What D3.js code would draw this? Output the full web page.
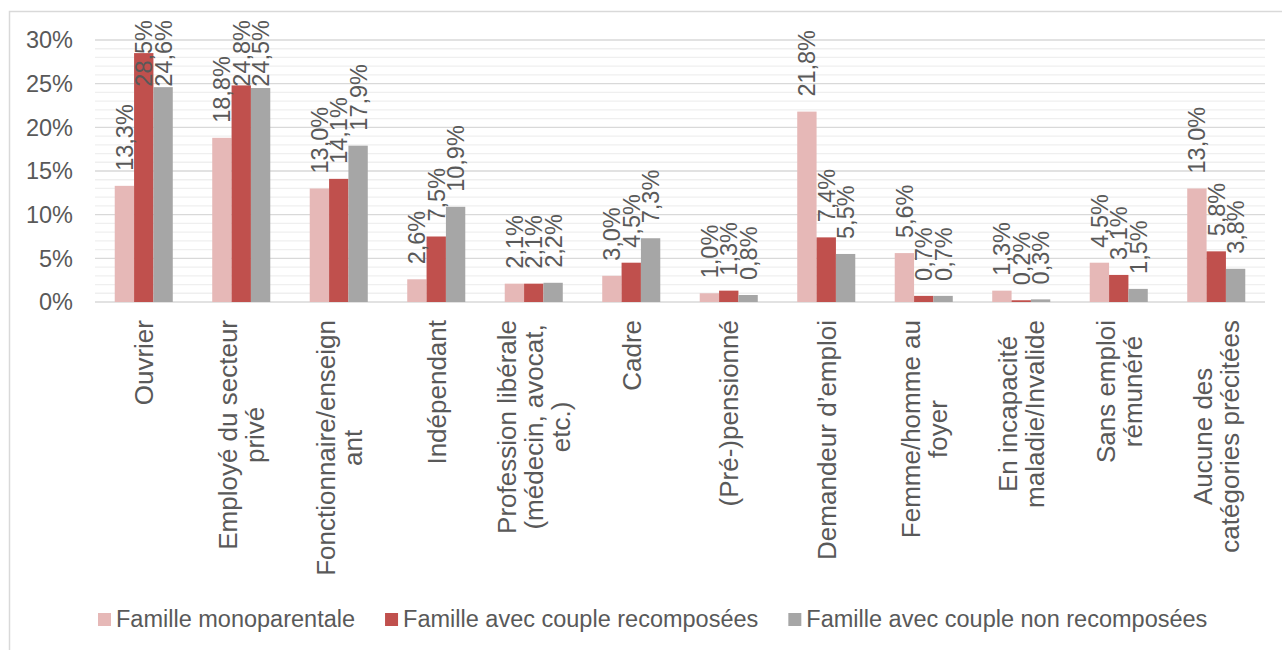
<!DOCTYPE html>
<html>
<head>
<meta charset="utf-8">
<script src="https://cdn.jsdelivr.net/npm/d3@7"></script>
<style>
  body { margin: 0; background: #fff; }
  text { font-family: "Liberation Sans", Arial, sans-serif; fill: #595959; }
</style>
</head>
<body>
<script>
// data
var categories = [
  ["Ouvrier"],
  ["Employé du secteur", "privé"],
  ["Fonctionnaire/enseign", "ant"],
  ["Indépendant"],
  ["Profession libérale", "(médecin, avocat,", "etc.)"],
  ["Cadre"],
  ["(Pré-)pensionné"],
  ["Demandeur d’emploi"],
  ["Femme/homme au", "foyer"],
  ["En incapacité", "maladie/Invalide"],
  ["Sans emploi", "rémunéré"],
  ["Aucune des", "catégories précitées"]
]
var seriesNames = ["Famille monoparentale", "Famille avec couple recomposées", "Famille avec couple non recomposées"]
var monoparentale = [13.3, 18.8, 13.0, 2.6, 2.1, 3.0, 1.0, 21.8, 5.6, 1.3, 4.5, 13.0]
var recomposees = [28.5, 24.8, 14.1, 7.5, 2.1, 4.5, 1.3, 7.4, 0.7, 0.2, 3.1, 5.8]
var nonRecomposees = [24.6, 24.5, 17.9, 10.9, 2.2, 7.3, 0.8, 5.5, 0.7, 0.3, 1.5, 3.8]
var yTicks = [0, 5, 10, 15, 20, 25, 30]

var colors = ["#e6b8b7", "#c0504d", "#a6a6a6"]
var allSeries = [monoparentale, recomposees, nonRecomposees]

var svg = d3.select("body").append("svg").attr("width", 1282).attr("height", 650)

// chart frame (cut by the picture at right and bottom)
svg.append("rect")
  .attr("x", 9.5).attr("y", 11.5)
  .attr("width", 1400).attr("height", 800)
  .attr("fill", "none").attr("stroke", "#d9d9d9").attr("stroke-width", 1.5)

var plotLeft = 95, plotRight = 1265, plotTop = 40, plotBottom = 302

var x = d3.scaleBand()
  .domain(d3.range(categories.length))
  .range([plotLeft, plotRight])
  .padding(0)

var step = x.bandwidth()
var groupW = step / 1.68
var xs = d3.scaleBand()
  .domain(d3.range(3))
  .range([(step - groupW) / 2, (step + groupW) / 2])

var y = d3.scaleLinear().domain([0, 30]).range([plotBottom, plotTop])

// minor gridlines
svg.append("g").selectAll("line")
  .data(d3.range(0, 31, 1).filter(function(d) { return d % 5 != 0 }))
  .join("line")
  .attr("x1", plotLeft).attr("x2", plotRight)
  .attr("y1", function(d) { return y(d) }).attr("y2", function(d) { return y(d) })
  .attr("stroke", "#efefef").attr("stroke-width", 1.3)

// major gridlines
svg.append("g").selectAll("line")
  .data(yTicks)
  .join("line")
  .attr("x1", plotLeft).attr("x2", plotRight)
  .attr("y1", function(d) { return y(d) }).attr("y2", function(d) { return y(d) })
  .attr("stroke", "#d9d9d9").attr("stroke-width", 1.3)

// y labels
svg.append("g").selectAll("text")
  .data(yTicks)
  .join("text")
  .attr("x", 73)
  .attr("y", function(d) { return y(d) })
  .attr("dy", "0.36em")
  .attr("text-anchor", "end")
  .style("font-size", "23.5px")
  .text(function(d) { return d + "%" })

// bars
var fmt = function(v) { return v.toFixed(1).replace(".", ",") + "%" }
allSeries.forEach(function(vals, s) {
  var g = svg.append("g")
  g.selectAll("rect")
    .data(vals)
    .join("rect")
    .attr("x", function(d, i) { return x(i) + xs(s) })
    .attr("width", xs.bandwidth())
    .attr("y", function(d) { return y(d) })
    .attr("height", function(d) { return plotBottom - y(d) })
    .attr("fill", colors[s])
})

// data labels
allSeries.forEach(function(vals, s) {
  svg.append("g").selectAll("text")
    .data(vals)
    .join("text")
    .style("font-size", "23.5px")
    .attr("dy", "0.36em")
    .text(function(d) { return fmt(d) })
    .each(function(d, i) {
      var len = this.getComputedTextLength()
      var start = y(d) - 15
      if (start - len < 20) start = 20 + len
      var cx = x(i) + xs(s) + xs.bandwidth() / 2
      d3.select(this).attr("transform", "translate(" + cx + "," + start + ") rotate(-90)")
    })
})

// category labels
var lineH = 27
categories.forEach(function(lines, i) {
  var g = svg.append("g")
  var n = lines.length
  var texts = g.selectAll("text")
    .data(lines)
    .join("text")
    .style("font-size", "26px")
    .attr("text-anchor", "middle")
    .text(function(d) { return d })
  var maxLen = 0
  texts.each(function() { maxLen = Math.max(maxLen, this.getComputedTextLength()) })
  var cy = 320 + maxLen / 2
  var cx = x(i) + step / 2
  texts.attr("transform", function(d, j) {
    var off = (j - (n - 1) / 2) * lineH + 0.36 * 26
    return "translate(" + (cx + off) + "," + cy + ") rotate(-90)"
  })
})

// legend
var legend = svg.append("g")
var lx = 98
seriesNames.forEach(function(name, s) {
  legend.append("rect")
    .attr("x", lx).attr("y", 613)
    .attr("width", 13).attr("height", 13)
    .attr("fill", colors[s])
  var t = legend.append("text")
    .attr("x", lx + 18).attr("y", 627)
    .style("font-size", "23.5px")
    .text(name)
  lx += 18 + t.node().getComputedTextLength() + 30
})
</script>
</body>
</html>
